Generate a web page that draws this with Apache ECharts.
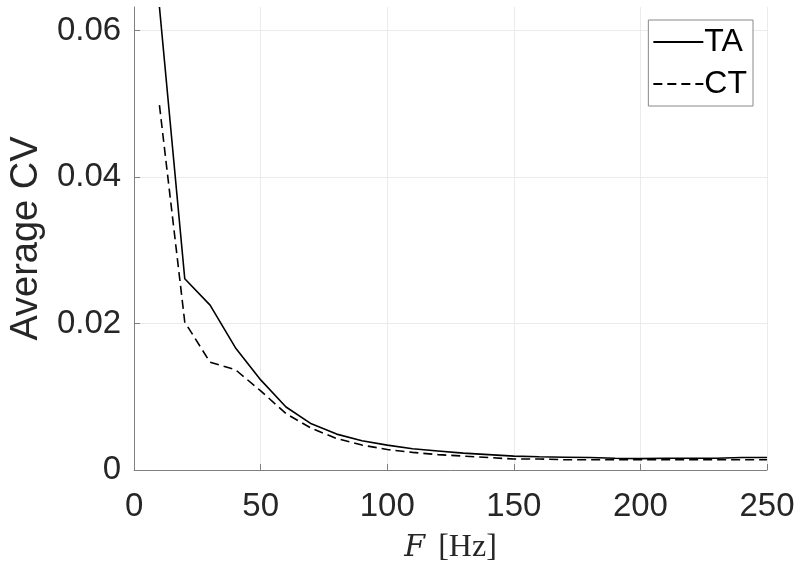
<!DOCTYPE html>
<html><head><meta charset="utf-8">
<script src="https://cdn.jsdelivr.net/npm/echarts@6/dist/echarts.min.js"></script>
<style>html,body{margin:0;padding:0;background:#fff}#c{width:800px;height:573px}</style>
</head><body><div id="c"></div>
<script>
const freqs = [10,20,30,40,50,60,70,80,90,100,110,120,130,140,150,160,170,180,190,200,210,220,230,240,250];
const ta = [0.0632,0.0261,0.0225,0.0167,0.0123,0.0086,0.0063,0.0049,0.0040,0.0034,0.0029,0.0026,0.0023,0.0021,0.0019,0.0018,0.00175,0.0017,0.0016,0.00155,0.0016,0.0016,0.0016,0.0017,0.0017];
const ct = [0.0498,0.0202,0.0147,0.0137,0.0108,0.0077,0.0057,0.0043,0.0034,0.0028,0.0024,0.0021,0.0019,0.0017,0.0015,0.0015,0.0014,0.0014,0.0014,0.0014,0.0014,0.0014,0.0014,0.0014,0.0014];
const xTicks = [0,50,100,150,200,250];
const yTicks = [0,0.02,0.04,0.06];
const seriesNames = ['TA','CT'];

const chart = echarts.init(document.getElementById('c'));
const txt = '#262626';
const font = 'Liberation Sans, Arial, Helvetica, sans-serif';
chart.setOption({
  animation:false,
  backgroundColor:'#fff',
  grid:{left:131,right:33,top:7,bottom:103,containLabel:false},
  legend:{
    data:seriesNames,
    orient:'vertical',
    right:47, top:20,
    padding:[6,6,6,4],
    itemGap:10,
    itemWidth:50, itemHeight:20,
    borderColor:'#888', borderWidth:1,
    backgroundColor:'#fff',
    itemStyle:{color:'rgba(0,0,0,0)',borderWidth:0,opacity:0},
    textStyle:{fontFamily:font,fontSize:32,color:'#000',padding:[0,0,0,-4]}
  },
  xAxis:{
    type:'value',min:0,max:250,interval:50,
    axisLine:{lineStyle:{color:'#808080',width:1}},
    axisTick:{inside:true,length:6,lineStyle:{color:'#808080'}},
    splitLine:{show:true,lineStyle:{color:'#ebebeb',width:1}},
    axisLabel:{fontFamily:font,fontSize:33,color:txt,margin:20,
      formatter:v=>xTicks.includes(v)?String(v):''},
    name:'{i|F}{r|[Hz]}',
    nameLocation:'middle',nameGap:62,
    nameTextStyle:{rich:{
      i:{fontFamily:'DejaVu Serif, Liberation Serif, serif',fontStyle:'italic',fontSize:30,color:txt},
      r:{fontFamily:'Liberation Serif, DejaVu Serif, serif',fontSize:32,color:txt,padding:[0,0,0,13]}
    }}
  },
  yAxis:{
    type:'value',min:0,max:0.0632,interval:0.02,
    axisLine:{show:true,lineStyle:{color:'#808080',width:1}},
    axisTick:{show:true,inside:true,length:6,lineStyle:{color:'#808080'}},
    splitLine:{show:true,lineStyle:{color:['#ebebeb','#ebebeb','#ebebeb','#ebebeb','rgba(0,0,0,0)'],width:1}},
    axisLabel:{fontFamily:font,fontSize:33,color:txt,margin:13,showMaxLabel:false,
      formatter:v=>{const t=yTicks.find(y=>Math.abs(y-v)<1e-9);return t===undefined?'':(t===0?'0':t.toFixed(2));}},
    name:'Average CV',
    nameLocation:'middle',nameGap:88,nameRotate:90,
    nameTextStyle:{fontFamily:font,fontSize:38,color:txt}
  },
  series:[
    {name:seriesNames[0],type:'line',data:freqs.map((f,i)=>[f,ta[i]]),showSymbol:false,symbol:'none',
     lineStyle:{color:'#000',width:1.6,type:'solid'},itemStyle:{color:'#000'},clip:true},
    {name:seriesNames[1],type:'line',data:freqs.map((f,i)=>[f,ct[i]]),showSymbol:false,symbol:'none',
     lineStyle:{color:'#000',width:1.6,type:[9,5]},itemStyle:{color:'#000'},clip:true}
  ]
});
</script></body></html>
